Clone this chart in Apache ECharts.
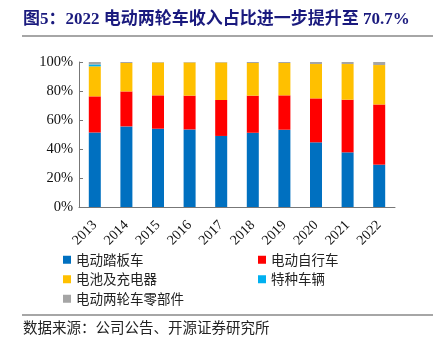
<!DOCTYPE html>
<html><head><meta charset="utf-8">
<script src="https://cdn.jsdelivr.net/npm/echarts@6/dist/echarts.min.js"></script>
<style>html,body{margin:0;padding:0;background:#fff}#c{width:439px;height:346px}</style>
</head><body><div id="c"></div>
<script>
var years = ['2013','2014','2015','2016','2017','2018','2019','2020','2021','2022'];
var scooter = [51.4,55.6,54.0,53.5,49.0,51.2,53.3,44.6,37.7,29.2];
var ebike   = [24.9,24.1,23.0,23.3,24.8,25.6,23.7,30.3,36.3,41.5];
var battery = [20.7,19.6,22.7,22.9,25.9,22.5,22.3,23.7,24.6,27.2];
var special = [1.3,0,0,0,0,0,0,0,0,0];
var parts   = [1.7,0.7,0.3,0.3,0.3,0.7,0.7,1.4,1.4,2.1];
var names = ['电动踏板车','电动自行车','电池及充电器','特种车辆','电动两轮车零部件'];
var colors = ['#0070C0','#FF0000','#FFC000','#00B0F0','#A5A5A5'];
var serif = '"Liberation Serif","Times New Roman",serif';
var cjk = '"Noto Sans CJK SC",sans-serif';
var chart = echarts.init(document.getElementById('c'));
var data = [scooter, ebike, battery, special, parts];
chart.setOption({
  animation:false,
  color: colors,
  grid:{left:79,right:44,top:62,bottom:139},
  legend:[
    {data:[names[0],names[2],names[4]],orient:'vertical',left:58,top:248,itemWidth:8,itemHeight:8,itemGap:6,icon:'rect',
     textStyle:{fontFamily:cjk,fontSize:13.5,color:'#222'}},
    {data:[names[1],names[3]],orient:'vertical',left:253,top:248,itemWidth:8,itemHeight:8,itemGap:6,icon:'rect',
     textStyle:{fontFamily:cjk,fontSize:13.5,color:'#222'}}
  ],
  xAxis:{type:'category',data:years,
    axisLine:{lineStyle:{color:'#777',width:1}},
    axisTick:{inside:true,length:4,lineStyle:{color:'#777'}},
    axisLabel:{rotate:45,fontFamily:serif,fontSize:14,color:'#111',margin:16}},
  yAxis:{type:'value',min:0,max:100,interval:20,
    axisLine:{show:true,lineStyle:{color:'#777',width:1}},
    axisTick:{show:true,inside:true,length:4,lineStyle:{color:'#777'}},
    splitLine:{show:false},
    axisLabel:{formatter:'{value}%',fontFamily:serif,fontSize:14.5,color:'#111',margin:6}},
  series: names.map(function(n,i){return {name:n,type:'bar',stack:'s',barWidth:12,data:data[i]};}),
  graphic:[
    {type:'text',left:23,top:11,style:{text:'图5：2022 电动两轮车收入占比进一步提升至 70.7%',fontFamily:serif+','+cjk,fontWeight:'bold',fontSize:17,fill:'#1a1a7e'}},
    {type:'line',shape:{x1:22,y1:36,x2:433,y2:36},style:{stroke:'#888',lineWidth:1.5}},
    {type:'line',shape:{x1:22,y1:315,x2:433,y2:315},style:{stroke:'#888',lineWidth:1.5}},
    {type:'text',left:23,top:320,style:{text:'数据来源：公司公告、开源证券研究所',fontFamily:cjk,fontSize:14.5,fill:'#222'}}
  ]
});
</script></body></html>
